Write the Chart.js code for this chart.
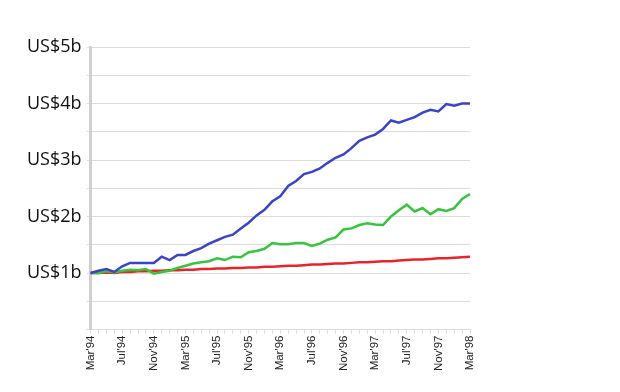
<!DOCTYPE html>
<html>
<head>
<meta charset="utf-8">
<script src="https://cdn.jsdelivr.net/npm/chart.js@4/dist/chart.umd.min.js"></script>
<style>
  html, body { margin: 0; padding: 0; background: #fff; }
  #wrap { width: 620px; height: 392px; position: relative; }
</style>
</head>
<body>
<div id="wrap"><canvas id="c" width="620" height="392"></canvas></div>
<script>
// Months Mar'94 .. Mar'98
const months = ["Mar'94","Apr'94","May'94","Jun'94","Jul'94","Aug'94","Sep'94","Oct'94","Nov'94","Dec'94","Jan'95","Feb'95",
  "Mar'95","Apr'95","May'95","Jun'95","Jul'95","Aug'95","Sep'95","Oct'95","Nov'95","Dec'95","Jan'96","Feb'96",
  "Mar'96","Apr'96","May'96","Jun'96","Jul'96","Aug'96","Sep'96","Oct'96","Nov'96","Dec'96","Jan'97","Feb'97",
  "Mar'97","Apr'97","May'97","Jun'97","Jul'97","Aug'97","Sep'97","Oct'97","Nov'97","Dec'97","Jan'98","Feb'98","Mar'98"];

// values in US$ billions
const blueSeries = [1.00,1.04,1.07,1.02,1.12,1.18,1.18,1.18,1.18,1.29,1.23,1.32,
  1.32,1.39,1.44,1.52,1.58,1.64,1.68,1.79,1.89,2.02,2.12,2.27,
  2.36,2.54,2.63,2.75,2.79,2.85,2.95,3.04,3.10,3.21,3.34,3.40,
  3.45,3.55,3.70,3.66,3.71,3.76,3.84,3.89,3.86,3.99,3.96,4.00,4.00];
const greenSeries = [1.00,1.00,1.03,1.01,1.04,1.06,1.05,1.07,0.99,1.02,1.04,1.09,
  1.13,1.17,1.19,1.21,1.26,1.23,1.29,1.28,1.37,1.39,1.43,1.53,
  1.51,1.51,1.53,1.53,1.48,1.52,1.59,1.63,1.77,1.79,1.85,1.88,
  1.86,1.85,2.00,2.11,2.21,2.09,2.15,2.04,2.13,2.10,2.15,2.31,2.40];
const redSeries = [1.00,1.00,1.01,1.00,1.02,1.02,1.03,1.03,1.04,1.04,1.05,1.05,
  1.06,1.06,1.07,1.07,1.08,1.08,1.09,1.09,1.10,1.10,1.11,1.11,
  1.12,1.13,1.13,1.14,1.15,1.15,1.16,1.17,1.17,1.18,1.19,1.19,
  1.20,1.21,1.21,1.22,1.23,1.24,1.24,1.25,1.26,1.26,1.27,1.28,1.29];

const yMin = 0, yMax = 5, yStep = 0.5;

const ds = (data, color) => ({
  data, borderColor: color, backgroundColor: color, borderWidth: 2.5,
  pointRadius: 0, tension: 0, fill: false
});

new Chart(document.getElementById('c'), {
  type: 'line',
  data: {
    labels: months,
    datasets: [
      ds(blueSeries, '#3a44c6'),
      ds(greenSeries, '#37c43f'),
      ds(redSeries, '#e8242a')
    ]
  },
  options: {
    responsive: false,
    animation: false,
    layout: { padding: { left: 22, top: 47, right: 150, bottom: 19 } },
    plugins: { legend: { display: false }, tooltip: { enabled: false } },
    scales: {
      x: {
        offset: false,
        grid: { drawOnChartArea: false, color: '#dddddd', tickLength: 4, drawTicks: true },
        border: { color: '#dddddd', width: 1 },
        ticks: {
          autoSkip: false, maxRotation: 90, minRotation: 90,
          color: '#222', font: { family: 'Liberation Sans', size: 11.5 }, padding: 2,
          callback: (v, i) => (i % 4 === 0 ? months[i] : '')
        }
      },
      y: {
        min: yMin, max: yMax,
        grid: { color: '#dddddd', tickLength: 4 },
        border: { color: '#d0d0d0', width: 3 },
        ticks: {
          stepSize: yStep, color: '#111', font: { family: 'Open Sans', size: 18 }, padding: 5,
          callback: v => (Number.isInteger(v) && v > 0 ? 'US$' + v + 'b' : '')
        }
      }
    }
  }
});
</script>
</body>
</html>
